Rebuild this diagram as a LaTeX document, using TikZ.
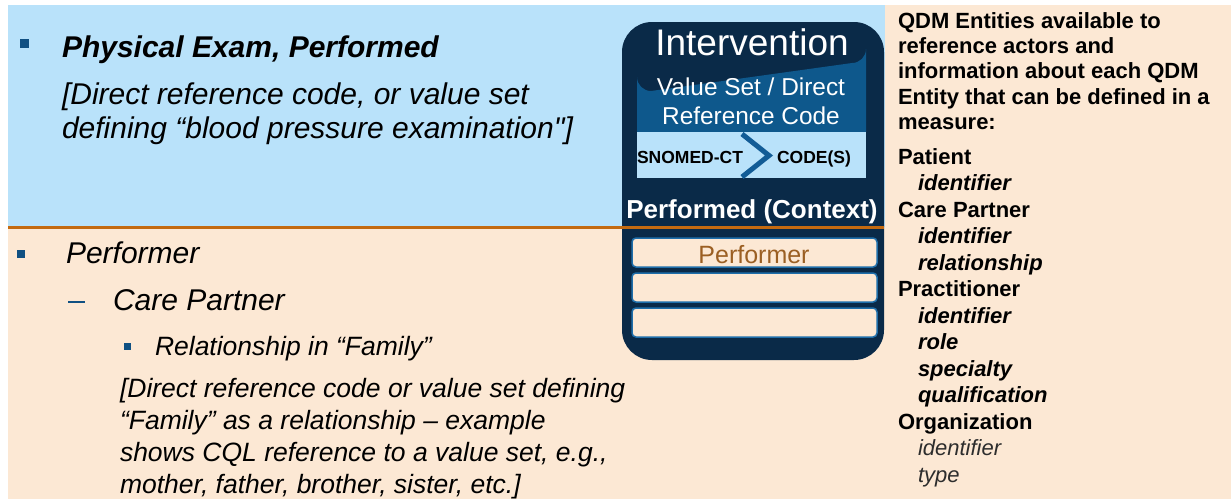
\documentclass[tikz,border=0pt]{standalone}
\usepackage{fontspec}
\setmainfont{Liberation Sans}
\definecolor{lblue}{RGB}{185,226,250}
\definecolor{peach}{RGB}{252,232,212}
\definecolor{navy}{RGB}{10,42,72}
\definecolor{midblue}{RGB}{14,88,140}
\definecolor{chev}{RGB}{18,92,150}
\definecolor{orng}{RGB}{196,106,16}
\definecolor{brwn}{RGB}{155,95,35}
\definecolor{bullc}{RGB}{16,80,130}
\definecolor{rowedge}{RGB}{30,110,170}
\definecolor{dgray}{RGB}{45,45,45}
\newcommand{\straightq}{{\addfontfeatures{Ligatures=TeXOff}"}}
\tikzset{
  txt/.style={anchor=base west,inner sep=0pt,outer sep=0pt},
  ctxt/.style={anchor=base,inner sep=0pt,outer sep=0pt},
  bigit/.style={txt,font=\fontsize{30}{36}\selectfont\itshape},
  bigbi/.style={txt,font=\fontsize{30}{36}\selectfont\bfseries\itshape},
  midit/.style={txt,font=\fontsize{26.5}{32}\selectfont\itshape},
  rhead/.style={txt,font=\fontsize{22}{25}\selectfont\bfseries},
  ritem/.style={txt,font=\fontsize{22}{25}\selectfont\bfseries\itshape},
  rplain/.style={txt,font=\fontsize{22}{25}\selectfont\itshape,text=dgray},
  bull/.style={fill=bullc,inner sep=0pt,minimum size=#1},
  rowbox/.style={draw=rowedge,line width=1.5pt,fill=peach,rounded corners=4pt,minimum width=245pt,minimum height=29pt,inner sep=0pt},
}
\begin{document}
\begin{tikzpicture}[x=1pt,y=-1pt]
\useasboundingbox (0,0) rectangle (1231,499);
\fill[white] (0,0) rectangle (1231,499);
% backgrounds
\fill[lblue] (8,5) rectangle (885,227);
\fill[peach] (8,227) rectangle (885,499);
\fill[peach] (885,5) rectangle (1231,499);
% navy box
\fill[navy,rounded corners=30pt] (622,22) rectangle (884,360);
\fill[midblue] (637,132) -- (637,77) arc[start angle=180,end angle=90,radius=14] -- (852,63) arc[start angle=90,end angle=0,radius=14] -- (866,132) -- cycle;
\fill[lblue] (637,132) rectangle (866,178);
\coordinate (c1) at (742,134);
\coordinate (c2) at (769,155.5);
\coordinate (c3) at (742,177);
\draw[chev,line width=5pt] (c1) -- (c2) -- (c3);
\node[ctxt,text=white,font=\fontsize{37}{40}\selectfont] (interv) at (752,55) {Intervention};
\node[ctxt,text=white,font=\fontsize{24.4}{29}\selectfont] (vs1) at (751,95) {Value Set / Direct};
\node[ctxt,text=white,font=\fontsize{24.4}{29}\selectfont] (vs2) at (751,124) {Reference Code};
\node[txt,font=\fontsize{17.5}{20}\selectfont\bfseries] (snomed) at (637,163) {SNOMED-CT};
\node[txt,font=\fontsize{17.5}{20}\selectfont\bfseries] (codes) at (777,163) {CODE(S)};
\node[ctxt,text=white,font=\fontsize{26}{30}\selectfont\bfseries] (perfctx) at (752,218) {Performed (Context)};
% orange divider
\coordinate (divL) at (8,227);
\coordinate (divR) at (884,227);
\draw[orng,line width=3pt] (divL) -- (divR);
% rows
\node[rowbox] (row1) at (754.5,252.5) {};
\node[rowbox] (row2) at (754.5,287.5) {};
\node[rowbox] (row3) at (754.5,322.5) {};
\node[ctxt,text=brwn,font=\fontsize{25}{28}\selectfont] (perfrow) at (754,263) {Performer};
% left top text
\node[bull=9.5pt] (b1) at (24.5,43.5) {};
\node[bigbi] (pe) at (62,57) {Physical Exam, Performed};
\node[bigit] (pe2) at (62,104) {[Direct reference code, or value set};
\node[bigit] (pe3) at (62,138) {defining “blood pressure examination\straightq]};
% left bottom text
\node[bull=8.5pt] (b2) at (21,254) {};
\node[bigit] (perf) at (66,263) {Performer};
\coordinate (d1) at (68,302);
\coordinate (d2) at (85,302);
\draw[bullc,line width=2pt] (d1) -- (d2);
\node[bigit] (cp) at (113,310) {Care Partner};
\node[bull=7pt] (b3) at (127.5,346.5) {};
\node[midit] (rel) at (155,355) {Relationship in “Family”};
\node[midit] (br1) at (120,397) {[Direct reference code or value set defining};
\node[midit] (br2) at (120,429) {“Family” as a relationship – example};
\node[midit] (br3) at (120,461) {shows CQL reference to a value set, e.g.,};
\node[midit] (br4) at (120,493) {mother, father, brother, sister, etc.]};
% right column
\node[rhead] (q1) at (898,28) {QDM Entities available to};
\node[rhead] (q2) at (898,53.5) {reference actors and};
\node[rhead] (q3) at (898,78.5) {information about each QDM};
\node[rhead] (q4) at (898,104) {Entity that can be defined in a};
\node[rhead] (q5) at (898,129) {measure:};
\node[rhead] (pat) at (898,164) {Patient};
\node[ritem] (pat1) at (918,190.5) {identifier};
\node[rhead] (cpr) at (898,217) {Care Partner};
\node[ritem] (cpr1) at (918,243.5) {identifier};
\node[ritem] (cpr2) at (918,270) {relationship};
\node[rhead] (pra) at (898,296.5) {Practitioner};
\node[ritem] (pra1) at (918,323) {identifier};
\node[ritem] (pra2) at (918,349.5) {role};
\node[ritem] (pra3) at (918,376) {specialty};
\node[ritem] (pra4) at (918,402.5) {qualification};
\node[rhead] (org) at (898,429) {Organization};
\node[rplain] (org1) at (918,455.5) {identifier};
\node[rplain] (org2) at (918,482) {type};
\end{tikzpicture}
\end{document}
